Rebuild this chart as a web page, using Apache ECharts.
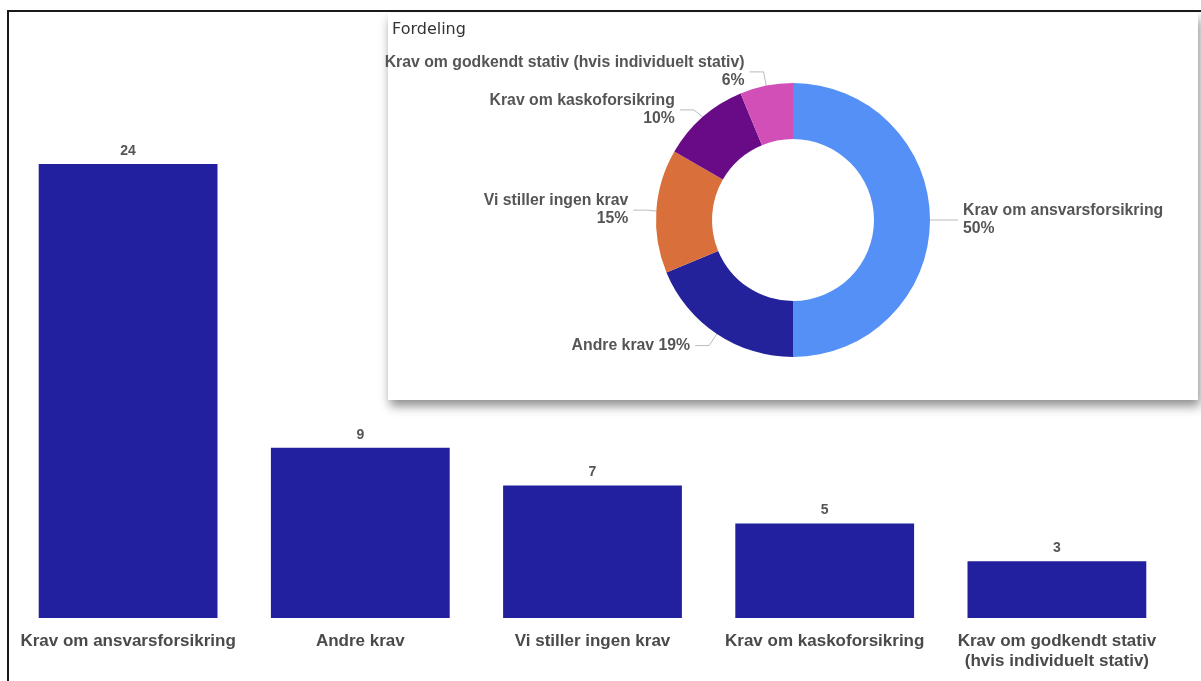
<!DOCTYPE html>
<html>
<head>
<meta charset="utf-8">
<script src="https://cdn.jsdelivr.net/npm/echarts@6/dist/echarts.min.js"></script>
<style>
html,body{margin:0;padding:0;background:#fff;}
#c{width:1201px;height:681px;}
</style>
</head>
<body>
<div id="c"></div>
<script>
const categories = ['Krav om ansvarsforsikring', 'Andre krav', 'Vi stiller ingen krav', 'Krav om kaskoforsikring', 'Krav om godkendt stativ (hvis individuelt stativ)'];
const axisLabels = ['Krav om ansvarsforsikring', 'Andre krav', 'Vi stiller ingen krav', 'Krav om kaskoforsikring', 'Krav om godkendt stativ\n(hvis individuelt stativ)'];
const values = [24, 9, 7, 5, 3];
const pieColors = ['#5490f6', '#23229b', '#d9703b', '#690b86', '#d14fb7'];
const barColor = '#22209e';
const pieTitle = 'Fordeling';

const FONT = '"Liberation Sans", Arial, sans-serif';
const chart = echarts.init(document.getElementById('c'), null, {renderer: 'canvas'});

chart.setOption({
  animation: false,
  backgroundColor: '#ffffff',
  title: {
    text: pieTitle,
    left: 387,
    top: 17,
    textStyle: {fontFamily: '"DejaVu Sans", "Noto Sans", sans-serif', fontSize: 16, fontWeight: 'normal', color: '#333333'}
  },
  graphic: [
    {type: 'line', z: 10, shape: {x1: 8, y1: 11, x2: 1201, y2: 11}, style: {stroke: '#1a1a1a', lineWidth: 2}},
    {type: 'line', z: 10, shape: {x1: 8, y1: 10, x2: 8, y2: 681}, style: {stroke: '#1a1a1a', lineWidth: 2}},
    {type: 'rect', z: 0, shape: {x: 388, y: 13, width: 810, height: 387},
      style: {fill: '#ffffff', shadowBlur: 10, shadowColor: 'rgba(0,0,0,0.45)', shadowOffsetX: 2, shadowOffsetY: 6}}
  ],
  grid: {left: 12, width: 1161, top: 164, bottom: 63, containLabel: false},
  xAxis: {
    type: 'category',
    data: categories,
    axisLine: {show: false},
    axisTick: {show: false},
    axisLabel: {
      interval: 0,
      margin: 13,
      formatter: function (v, i) { return axisLabels[i]; },
      fontFamily: FONT, fontSize: 17, fontWeight: 'bold', color: '#4a4a4a', lineHeight: 20
    }
  },
  yAxis: {type: 'value', min: 0, max: 24, show: false, splitLine: {show: false}},
  series: [
    {
      type: 'bar',
      data: values,
      barCategoryGap: '23%',
      itemStyle: {color: barColor},
      label: {show: true, position: 'top', distance: 6, fontFamily: FONT, fontSize: 14, fontWeight: 'bold', color: '#555555'}
    },
    {
      type: 'pie',
      z: 3,
      center: [793, 220],
      radius: [81, 137],
      startAngle: 90,
      clockwise: true,
      percentPrecision: 0,
      data: categories.map(function (n, i) { return {name: n, value: values[i], itemStyle: {color: pieColors[i]}}; }),
      label: {
        show: true,
        formatter: function (p) { return p.name + (p.dataIndex === 1 ? ' ' : '\n') + p.percent + '%'; },
        fontFamily: FONT, fontSize: 15.8, fontWeight: 'bold', color: '#555555', lineHeight: 18
      },
      labelLine: {show: true, length: 14, length2: 14, lineStyle: {color: '#bbbbbb', width: 1}}
    }
  ]
});
</script>
</body>
</html>
